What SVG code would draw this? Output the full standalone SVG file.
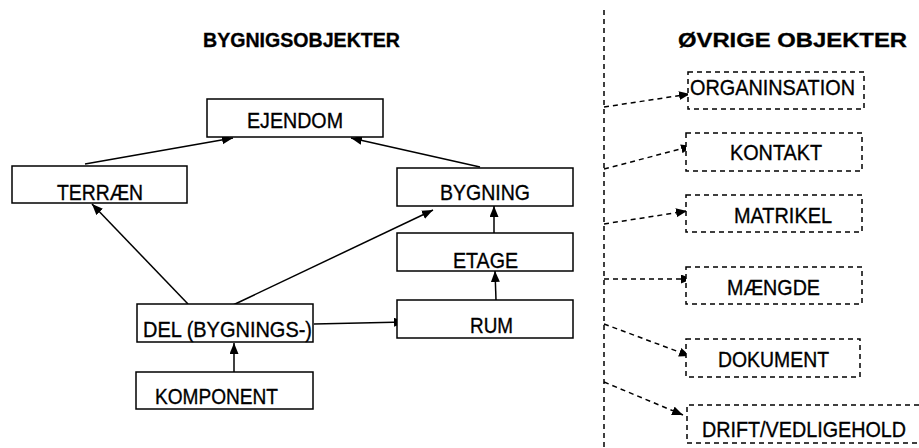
<svg xmlns="http://www.w3.org/2000/svg" width="919" height="448" viewBox="0 0 919 448">
<defs>
<marker id="ah" markerUnits="userSpaceOnUse" markerWidth="12" markerHeight="10" refX="11" refY="4.5" orient="auto">
<path d="M0,0 L11,4.5 L0,9 Z" fill="#000"/>
</marker>
</defs>
<style>
.box{fill:#fff;stroke:#000;stroke-width:1.5}
.dbox{fill:#fff;stroke:#000;stroke-width:1.5;stroke-dasharray:5,4}
.t{font-family:"Liberation Sans",Arial,sans-serif;font-size:22.5px;fill:#000;stroke:#000;stroke-width:0.35}
.h{font-family:"Liberation Sans",Arial,sans-serif;font-size:19.5px;font-weight:bold;fill:#000;stroke:#000;stroke-width:0.3}
.c{stroke:#000;stroke-width:1.5;fill:none;marker-end:url(#ah)}
.dc{stroke:#000;stroke-width:1.5;fill:none;stroke-dasharray:5,4;marker-end:url(#ah)}
</style>
<rect width="919" height="448" fill="#fff"/>
<text class="h" x="203" y="47" textLength="197" lengthAdjust="spacingAndGlyphs">BYGNIGSOBJEKTER</text>
<text class="h" x="678" y="47" textLength="229" lengthAdjust="spacingAndGlyphs">ØVRIGE OBJEKTER</text>
<line x1="604" y1="10" x2="604" y2="448" stroke="#000" stroke-width="1.5" stroke-dasharray="5,4"/>
<g id="connectors">
<line class="c" x1="85" y1="164" x2="233" y2="138"/>
<line class="c" x1="480" y1="167" x2="351" y2="138"/>
<line class="c" x1="188" y1="304" x2="92" y2="204"/>
<line class="c" x1="233" y1="305" x2="433" y2="210"/>
<line class="c" x1="314" y1="324" x2="405" y2="322"/>
<line class="c" x1="234" y1="372" x2="234" y2="343"/>
<line class="c" x1="494" y1="233" x2="494" y2="206"/>
<line class="c" x1="496" y1="300" x2="495" y2="271"/>
<line class="dc" x1="604" y1="107" x2="690" y2="94"/>
<line class="dc" x1="604" y1="169" x2="692" y2="146"/>
<line class="dc" x1="604" y1="224" x2="687" y2="211"/>
<line class="dc" x1="604" y1="279" x2="692" y2="279"/>
<line class="dc" x1="604" y1="324" x2="690" y2="356"/>
<line class="dc" x1="604" y1="382" x2="683" y2="415"/>
</g>
<g id="ejendom"><rect class="box" x="207" y="99" width="176" height="38"/><text class="t" x="247" y="128" textLength="96" lengthAdjust="spacingAndGlyphs">EJENDOM</text></g>
<g id="terraen"><rect class="box" x="12" y="166" width="175" height="37"/><text class="t" x="57" y="200" textLength="86" lengthAdjust="spacingAndGlyphs">TERRÆN</text></g>
<g id="bygning"><rect class="box" x="397" y="168" width="176" height="38"/><text class="t" x="440" y="200" textLength="90" lengthAdjust="spacingAndGlyphs">BYGNING</text></g>
<g id="etage"><rect class="box" x="397" y="233" width="176" height="38"/><text class="t" x="453" y="268" textLength="65" lengthAdjust="spacingAndGlyphs">ETAGE</text></g>
<g id="rum"><rect class="box" x="397" y="300" width="176" height="38"/><text class="t" x="470" y="333" textLength="43" lengthAdjust="spacingAndGlyphs">RUM</text></g>
<g id="del"><rect class="box" x="137" y="304" width="176" height="38"/><text class="t" x="143" y="337" textLength="169" lengthAdjust="spacingAndGlyphs">DEL (BYGNINGS-)</text></g>
<g id="komponent"><rect class="box" x="136" y="372" width="177" height="37"/><text class="t" x="155" y="404" textLength="123" lengthAdjust="spacingAndGlyphs">KOMPONENT</text></g>
<g id="organisation"><rect class="dbox" x="688" y="72" width="176" height="37"/><text class="t" x="690" y="95" textLength="165" lengthAdjust="spacingAndGlyphs">ORGANINSATION</text></g>
<g id="kontakt"><rect class="dbox" x="686" y="133" width="176" height="38"/><text class="t" x="730" y="160" textLength="92" lengthAdjust="spacingAndGlyphs">KONTAKT</text></g>
<g id="matrikel"><rect class="dbox" x="686" y="195" width="176" height="37"/><text class="t" x="734" y="223" textLength="98" lengthAdjust="spacingAndGlyphs">MATRIKEL</text></g>
<g id="maengde"><rect class="dbox" x="686" y="267" width="176" height="37"/><text class="t" x="727" y="295" textLength="93" lengthAdjust="spacingAndGlyphs">MÆNGDE</text></g>
<g id="dokument"><rect class="dbox" x="686" y="339" width="174" height="38"/><text class="t" x="718" y="367" textLength="111" lengthAdjust="spacingAndGlyphs">DOKUMENT</text></g>
<g id="drift"><path class="dbox" d="M919,405 H687 V443 H919"/><text class="t" x="702" y="437" textLength="204" lengthAdjust="spacingAndGlyphs">DRIFT/VEDLIGEHOLD</text></g>
</svg>
